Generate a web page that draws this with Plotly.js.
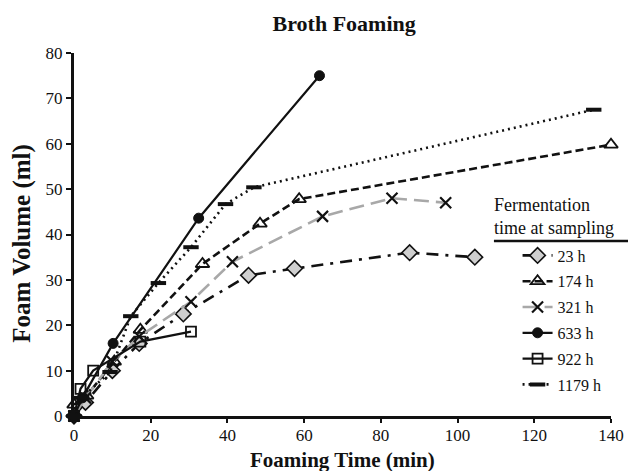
<!DOCTYPE html>
<html>
<head>
<meta charset="utf-8">
<script src="https://cdn.plot.ly/plotly-3.0.1.min.js"></script>
<style>
  html, body { margin: 0; padding: 0; background: #fff; }
  #chart { width: 628px; height: 471px; }
</style>
</head>
<body>
<div id="chart"></div>
<script>
// Foam volume (ml) versus foaming time (min) for broth sampled at different fermentation times
const seriesNames = ['23 h', '174 h', '321 h', '633 h', '922 h', '1179 h'];

const time23 = [0, 3, 10, 17, 28.5, 45.5, 57.5, 87.5, 104.5];
const vol23 = [0, 3, 10, 16, 22.5, 31, 32.5, 36, 35];

const time174 = [0, 3.3, 10.5, 17.3, 33.5, 48.5, 58.7, 140];
const vol174 = [2.5, 4.5, 12, 19, 33.5, 42.4, 47.8, 59.8];

const time321 = [0, 3, 10, 17, 30.5, 41.3, 64.8, 82.9, 96.9];
const vol321 = [0, 4, 12, 17.5, 25.2, 34, 44, 48, 47];

const time633 = [0, 2.2, 10.2, 32.5, 64];
const vol633 = [0, 4, 16, 43.6, 75];

const time922 = [0, 1.7, 5, 17.3, 30.5];
const vol922 = [0, 6, 10, 16.4, 18.6];

const time1179 = [0, 2, 9.4, 14.8, 22, 30.5, 39.5, 46.9, 135.5];
const vol1179 = [0, 4, 9.7, 22, 29.3, 37.2, 46.7, 50.4, 67.5];

const xTicks = [0, 20, 40, 60, 80, 100, 120, 140];
const yTicks = [0, 10, 20, 30, 40, 50, 60, 70, 80];

const legendHeading = 'Fermentation<br>time at sampling';

const serif = 'Liberation Serif, Times New Roman, serif';

function series(name, x, y, line, marker) {
  return {
    type: 'scatter', mode: 'lines+markers', name: name,
    x: x, y: y, line: line, marker: marker,
    legendgroup: name, cliponaxis: false
  };
}

const traces = [
  series(seriesNames[0], time23, vol23,
    { color: '#111', width: 2.6, dash: '12px,7px,3px,7px' },
    { symbol: 'diamond', size: 12, color: '#cfcfcf', line: { color: '#111', width: 1.6 } }),
  series(seriesNames[1], time174, vol174,
    { color: '#111', width: 2.6, dash: '8px,4px' },
    { symbol: 'triangle-up-open', size: 12, color: '#111', line: { color: '#111', width: 1.8 } }),
  series(seriesNames[2], time321, vol321,
    { color: '#a8a8a8', width: 2.6, dash: '15px,7px' },
    { symbol: 'x-thin-open', size: 11, color: '#111', line: { color: '#111', width: 2.2 } }),
  series(seriesNames[3], time633, vol633,
    { color: '#111', width: 2.2 },
    { symbol: 'circle', size: 10, color: '#111', line: { color: '#111', width: 1 } }),
  series(seriesNames[4], time922, vol922,
    { color: '#111', width: 2.2 },
    { symbol: 'square-open', size: 10, color: '#111', line: { color: '#111', width: 1.8 } }),
  series(seriesNames[5], time1179, vol1179,
    { color: '#111', width: 2.6, dash: '2px,4px' },
    { symbol: 'line-ew-open', size: 11, color: '#111', line: { color: '#111', width: 4 } })
];

const layout = {
  width: 628, height: 471,
  margin: { l: 74, r: 17, t: 53, b: 55 },
  paper_bgcolor: '#fff', plot_bgcolor: '#fff',
  font: { family: serif, color: '#111', size: 17 },
  title: {
    text: '<b>Broth Foaming</b>',
    font: { family: serif, size: 22, color: '#111' },
    x: 0.548, xanchor: 'center', y: 0.95, yanchor: 'middle', yref: 'container'
  },
  xaxis: {
    range: [0, 140], tickvals: xTicks, ticktext: xTicks.map(String),
    showgrid: false, zeroline: false,
    showline: true, linecolor: '#111', linewidth: 3,
    ticks: 'outside', ticklen: 4, tickwidth: 2, tickcolor: '#111',
    ticklabelstandoff: -2,
    tickfont: { family: serif, size: 17, color: '#111' }
  },
  yaxis: {
    range: [0, 80], tickvals: yTicks, ticktext: yTicks.map(String),
    showgrid: false, zeroline: false,
    showline: true, linecolor: '#111', linewidth: 3,
    ticks: 'outside', ticklen: 5, tickwidth: 2, tickcolor: '#111',
    tickfont: { family: serif, size: 17, color: '#111' }
  },
  legend: {
    x: 0.826, xanchor: 'left', y: 0.489, yanchor: 'top',
    font: { family: serif, size: 16, color: '#111' },
    traceorder: 'grouped', tracegroupgap: 2,
    bgcolor: 'rgba(0,0,0,0)', itemwidth: 30
  },
  annotations: [
    {
      xref: 'paper', yref: 'paper', x: 0.5, y: -0.121, xanchor: 'center', yanchor: 'middle',
      text: '<b>Foaming Time (min)</b>', showarrow: false,
      font: { family: serif, size: 21, color: '#111' }
    },
    {
      xref: 'paper', yref: 'paper', x: -0.097, y: 0.477, xanchor: 'center', yanchor: 'middle',
      text: '<b>Foam Volume (ml)</b>', showarrow: false, textangle: -90,
      font: { family: serif, size: 25, color: '#111' }
    },
    {
      xref: 'paper', yref: 'paper', x: 0.779, y: 0.549, xanchor: 'left', yanchor: 'middle',
      text: legendHeading, showarrow: false, align: 'left',
      font: { family: serif, size: 18, color: '#111' }
    }
  ],
  shapes: [{
    type: 'line', xref: 'paper', yref: 'paper', x0: 0.782, x1: 1.032, y0: 0.482, y1: 0.482,
    line: { color: '#111', width: 2.5 }
  }],
  showlegend: true
};

Plotly.newPlot('chart', traces, layout, { displayModeBar: false, staticPlot: true });
</script>
</body>
</html>
